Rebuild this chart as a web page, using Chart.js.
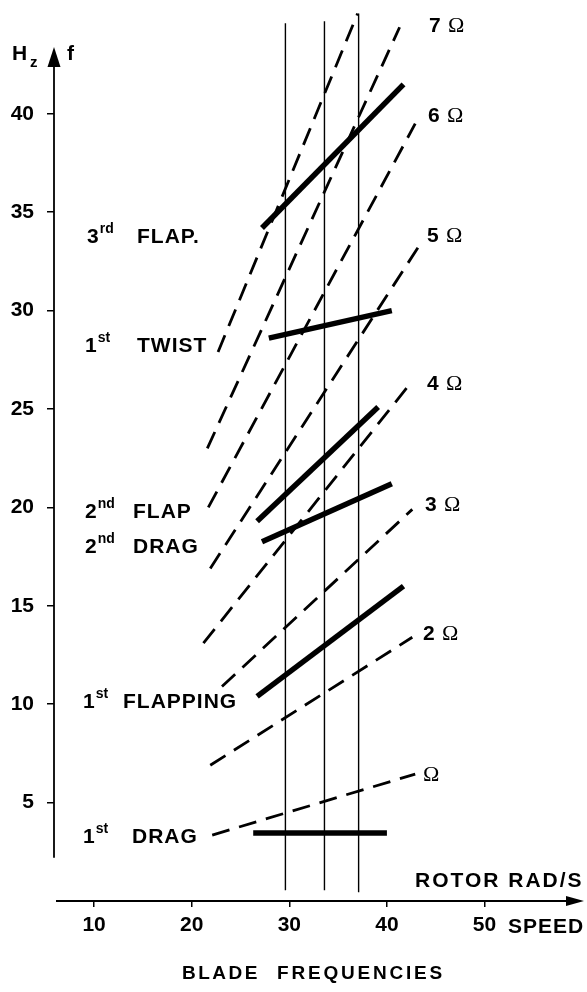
<!DOCTYPE html>
<html>
<head>
<meta charset="utf-8">
<script src="https://cdn.jsdelivr.net/npm/chart.js@4.4.1/dist/chart.umd.min.js"></script>
<style>
html,body{margin:0;padding:0;background:#fff;}
#wrap{position:relative;width:587px;height:992px;}
</style>
</head>
<body>
<div id="wrap"><canvas id="c"></canvas></div>
<script>
// ---- tick labels ----
const xTicks = [10, 20, 30, 40, 50];
const yTicks = [5, 10, 15, 20, 25, 30, 35, 40];

// ---- n·Ω excitation lines (rotor rad/s, Hz) ----
const harmonicNames  = ['Ω', '2 Ω', '3 Ω', '4 Ω', '5 Ω', '6 Ω', '7 Ω', '8 Ω'];
const harmonicStartX = [22.1, 21.9, 23.1, 21.2, 21.9, 21.7, 21.6, 22.7];
const harmonicStartF = [3.35, 6.9, 10.9, 13.1, 16.9, 20.0, 23.0, 27.9];
const harmonicEndX   = [42.9, 42.6, 42.6, 42.4, 43.7, 42.9, 41.3, 37.0];
const harmonicEndF   = [6.45, 13.4, 19.9, 26.3, 33.6, 39.5, 44.4, 45.1];

// ---- blade mode frequency lines (rotor rad/s, Hz) ----
const modeNames  = ['1st DRAG', '1st FLAPPING', '2nd DRAG', '2nd FLAP', '1st TWIST', '3rd FLAP.'];
const modeStartX = [26.3, 26.7, 27.2, 26.7, 27.9, 27.2];
const modeStartF = [3.45, 10.4, 18.25, 19.3, 28.6, 34.2];
const modeEndX   = [40.0, 41.7, 40.5, 39.1, 40.5, 41.7];
const modeEndF   = [3.45, 16.0, 21.2, 25.1, 30.0, 41.5];

// ---- rotor operating speeds (vertical lines) ----
const rotorSpeeds = [29.6, 33.6, 37.1];
const rotorLowF   = [0.55, 0.55, 0.45];
const rotorHighF  = [44.6, 44.7, 45.1];

// axis extents
const X_MIN = 5.89, X_MAX = 60.09, Y_MIN = 0, Y_MAX = 45.53;
const Y_AXIS_LOW = 2.2;

const SANS = '"Liberation Sans", Arial, Helvetica, sans-serif';
const SERIF = '"Liberation Serif", "Times New Roman", serif';

const datasets = [];
harmonicNames.forEach((n, i) => {
  datasets.push({
    label: n,
    data: [{x: harmonicStartX[i], y: harmonicStartF[i]}, {x: harmonicEndX[i], y: harmonicEndF[i]}],
    showLine: true, borderColor: '#000', borderWidth: 2.8, borderDash: [18, 10],
    borderCapStyle: 'butt', pointRadius: 0, fill: false, clip: false
  });
});
modeNames.forEach((n, i) => {
  datasets.push({
    label: n,
    data: [{x: modeStartX[i], y: modeStartF[i]}, {x: modeEndX[i], y: modeEndF[i]}],
    showLine: true, borderColor: '#000', borderWidth: 5.5,
    borderCapStyle: 'butt', pointRadius: 0, fill: false, clip: false
  });
});
rotorSpeeds.forEach((s, i) => {
  datasets.push({
    label: 'rotor ' + s,
    data: [{x: s, y: rotorLowF[i]}, {x: s, y: rotorHighF[i]}],
    showLine: true, borderColor: '#000', borderWidth: 1.4,
    pointRadius: 0, fill: false, clip: false
  });
});

function txt(ctx, s, x, y, font, spacing) {
  ctx.font = font;
  try { ctx.letterSpacing = (spacing || 0) + 'px'; } catch (e) {}
  ctx.fillText(s, x, y);
  try { ctx.letterSpacing = '0px'; } catch (e) {}
}

const decor = {
  id: 'decor',
  beforeDraw(chart) {
    const ctx = chart.ctx;
    ctx.save();
    ctx.fillStyle = '#fff';
    ctx.fillRect(0, 0, chart.width, chart.height);
    ctx.restore();
  },
  afterDraw(chart) {
    const ctx = chart.ctx;
    const xs = chart.scales.x, ys = chart.scales.y;
    ctx.save();
    ctx.strokeStyle = '#000';
    ctx.fillStyle = '#000';
    ctx.textBaseline = 'alphabetic';
    ctx.textAlign = 'left';

    // y axis with arrow
    const ax = xs.getPixelForValue(X_MIN);
    const yBot = ys.getPixelForValue(Y_AXIS_LOW);
    const yTip = 47;
    ctx.lineWidth = 1.8;
    ctx.beginPath(); ctx.moveTo(ax, yBot); ctx.lineTo(ax, yTip + 15); ctx.stroke();
    ctx.beginPath(); ctx.moveTo(ax, yTip); ctx.lineTo(ax - 6.5, yTip + 20); ctx.lineTo(ax + 6.5, yTip + 20); ctx.closePath(); ctx.fill();

    // x axis with arrow
    const ay = ys.getPixelForValue(0);
    const xr = xs.getPixelForValue(X_MAX);
    ctx.lineWidth = 2;
    ctx.beginPath(); ctx.moveTo(ax + 2, ay); ctx.lineTo(xr - 15, ay); ctx.stroke();
    ctx.beginPath(); ctx.moveTo(xr + 1, ay); ctx.lineTo(xr - 17, ay - 5); ctx.lineTo(xr - 17, ay + 5); ctx.closePath(); ctx.fill();

    // axis titles
    const B21 = 'bold 21px ' + SANS;
    txt(ctx, 'H', 12, 60, 'bold 21px ' + SANS);
    txt(ctx, 'z', 30, 67, 'bold 15px ' + SANS);
    txt(ctx, 'f', 67, 60, 'bold 21px ' + SANS);
    txt(ctx, 'ROTOR RAD/S', 415, 887, B21, 2);
    txt(ctx, 'SPEED', 508, 933, B21, 1);
    txt(ctx, 'BLADE', 182, 979, 'bold 19px ' + SANS, 2.5);
    txt(ctx, 'FREQUENCIES', 277, 979, 'bold 19px ' + SANS, 2.8);

    // mode labels
    const modeLabels = [
      ['3', 'rd', 'FLAP.', 87, 137, 243],
      ['1', 'st', 'TWIST', 85, 137, 352],
      ['2', 'nd', 'FLAP', 85, 133, 518],
      ['2', 'nd', 'DRAG', 85, 133, 553],
      ['1', 'st', 'FLAPPING', 83, 123, 708],
      ['1', 'st', 'DRAG', 83, 132, 843]
    ];
    modeLabels.forEach(l => {
      txt(ctx, l[0], l[3], l[5], B21);
      ctx.font = B21;
      const w = ctx.measureText(l[0]).width;
      txt(ctx, l[1], l[3] + w + 1, l[5] - 10, 'bold 14px ' + SANS);
      txt(ctx, l[2], l[4], l[5], B21, 1);
    });

    // harmonic labels
    const hLabels = [
      ['7', 429, 32], ['6', 428, 122], ['5', 427, 242], ['4', 427, 390],
      ['3', 425, 511], ['2', 423, 640], ['', 423, 781]
    ];
    hLabels.forEach(l => {
      let x = l[1];
      if (l[0]) { txt(ctx, l[0], x, l[2], B21); x += 19; }
      txt(ctx, 'Ω', x, l[2], '22px ' + SERIF);
    });
    ctx.restore();
  }
};

new Chart(document.getElementById('c'), {
  type: 'scatter',
  data: { datasets },
  plugins: [decor],
  options: {
    responsive: true,
    maintainAspectRatio: false,
    animation: false,
    events: [],
    layout: { padding: { left: 0, right: 4, top: 5, bottom: 31 } },
    plugins: { legend: { display: false }, tooltip: { enabled: false } },
    scales: {
      x: {
        type: 'linear', position: 'bottom', min: X_MIN, max: X_MAX,
        afterBuildTicks: s => { s.ticks = xTicks.map(v => ({ value: v })); },
        afterFit: s => { s.height = 60; s.paddingLeft = 0; s.paddingRight = 0; },
        grid: { display: true, drawOnChartArea: false, drawTicks: true, tickLength: 6, color: '#000', lineWidth: 1.5 },
        border: { display: false },
        ticks: { color: '#000', font: { family: SANS, size: 21, weight: 'bold' }, padding: 6, maxRotation: 0, autoSkip: false }
      },
      y: {
        type: 'linear', position: 'left', min: Y_MIN, max: Y_MAX,
        afterBuildTicks: s => { s.ticks = yTicks.map(v => ({ value: v })); },
        afterFit: s => { s.width = 54; s.paddingTop = 0; s.paddingBottom = 0; },
        grid: { display: true, drawOnChartArea: false, drawTicks: true, tickLength: 7, color: '#000', lineWidth: 1.5 },
        border: { display: false },
        ticks: { color: '#000', font: { family: SANS, size: 21, weight: 'bold' }, padding: 13, autoSkip: false }
      }
    }
  }
});
</script>
</body>
</html>
